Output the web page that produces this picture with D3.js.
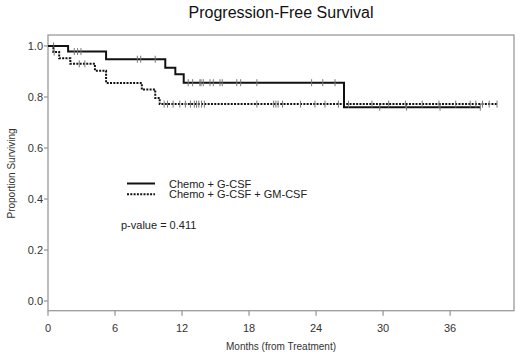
<!DOCTYPE html>
<html>
<head>
<meta charset="utf-8">
<script src="https://cdn.jsdelivr.net/npm/d3@7"></script>
<style>
  body { margin: 0; background: #fff; }
  text { font-family: "Liberation Sans", Arial, sans-serif; }
</style>
</head>
<body>
<div id="chart"></div>
<script>
var width = 520,
  height = 354;

// Chemo + G-CSF: step times (months) and survival after each step
var gcsfTimes = [0, 1.8, 5.2, 10.5, 11.4, 12.15, 26.5, 38.7];
var gcsfSurv = [1.0, 0.978, 0.948, 0.915, 0.889, 0.856, 0.76, 0.76];
var gcsfCensor = [0.5, 2.35, 2.65, 2.95, 8.0, 8.3, 9.6, 12.55, 12.95, 13.6, 13.7, 13.9, 14.5, 14.8,
  15.4, 15.6, 16.9, 17.25, 18.7, 23.6, 24.6, 25.7, 29.7, 32.1, 35.1, 38.7];

// Chemo + G-CSF + GM-CSF
var gmTimes = [0, 0.48, 1.0, 2.0, 4.2, 5.2, 8.4, 9.6, 10.0, 40.2];
var gmSurv = [1.0, 0.976, 0.952, 0.93, 0.903, 0.855, 0.829, 0.796, 0.772, 0.772];
var gmCensor = [0.55, 2.8, 3.3, 10.4, 10.7, 11.2, 11.8, 12.3, 12.75, 13.1, 13.3, 13.5, 13.75, 14.0,
  18.7, 20.2, 20.4, 20.6, 21.0, 22.6, 23.9, 24.8, 26.0, 26.9, 29.0, 30.5, 32.0, 33.5, 35.0,
  36.5, 37.8, 38.3, 38.9, 39.5, 40.2];

var xTicks = [0, 6, 12, 18, 24, 30, 36];
var yTicks = [0.0, 0.2, 0.4, 0.6, 0.8, 1.0];
var legendLabels = ["Chemo + G-CSF", "Chemo + G-CSF + GM-CSF"];
var pValue = "p-value = 0.411";

var svg = d3.select( "#chart" )
  .append( "svg" )
  .attr( "width", width )
  .attr( "height", height );

var x = d3.scaleLinear()
  .domain( [0, 41.72] )
  .range( [48, 514] );

var y = d3.scaleLinear()
  .domain( [-0.038, 1.043] )
  .range( [310.7, 35] );

// plot frame
svg.append( "rect" )
  .attr( "x", x(0) )
  .attr( "y", y(1.043) )
  .attr( "width", x(41.72) - x(0) )
  .attr( "height", y(-0.038) - y(1.043) )
  .attr( "fill", "none" )
  .attr( "stroke", "#9a9a9a" )
  .attr( "stroke-width", 1.3 );

// x axis ticks
var xAxis = svg.append( "g" );
xAxis.selectAll( "line" )
  .data( xTicks )
  .enter()
  .append( "line" )
  .attr( "x1", function(d){ return x(d); } )
  .attr( "x2", function(d){ return x(d); } )
  .attr( "y1", y(-0.038) )
  .attr( "y2", y(-0.038) + 5 )
  .attr( "stroke", "#9a9a9a" )
  .attr( "stroke-width", 1.3 );
xAxis.selectAll( "text" )
  .data( xTicks )
  .enter()
  .append( "text" )
  .attr( "x", function(d){ return x(d); } )
  .attr( "y", 332 )
  .attr( "text-anchor", "middle" )
  .attr( "font-size", "11px" )
  .attr( "fill", "#333" )
  .text( function(d){ return d; } );

// y axis ticks
var yAxis = svg.append( "g" );
yAxis.selectAll( "line" )
  .data( yTicks )
  .enter()
  .append( "line" )
  .attr( "x1", x(0) - 4 )
  .attr( "x2", x(0) )
  .attr( "y1", function(d){ return y(d); } )
  .attr( "y2", function(d){ return y(d); } )
  .attr( "stroke", "#9a9a9a" )
  .attr( "stroke-width", 1.3 );
yAxis.selectAll( "text" )
  .data( yTicks )
  .enter()
  .append( "text" )
  .attr( "x", 43 )
  .attr( "y", function(d){ return y(d) + 4; } )
  .attr( "text-anchor", "end" )
  .attr( "font-size", "11px" )
  .attr( "fill", "#333" )
  .text( function(d){ return d.toFixed(1); } );

// titles
svg.append( "text" )
  .attr( "x", 281 )
  .attr( "y", 18 )
  .attr( "text-anchor", "middle" )
  .attr( "font-size", "16px" )
  .attr( "fill", "#111" )
  .text( "Progression-Free Survival" );

svg.append( "text" )
  .attr( "x", 281 )
  .attr( "y", 350 )
  .attr( "text-anchor", "middle" )
  .attr( "font-size", "10px" )
  .attr( "fill", "#333" )
  .text( "Months (from Treatment)" );

svg.append( "text" )
  .attr( "transform", "translate(15," + y(0.5) + ") rotate(-90)" )
  .attr( "text-anchor", "middle" )
  .attr( "font-size", "10px" )
  .attr( "fill", "#333" )
  .text( "Proportion Surviving" );

// survival curves
function toPoints(times, surv){
  return times.map(function(t, i){ return [t, surv[i]]; });
}

function survAt(times, surv, t){
  var i = d3.bisectRight(times, t) - 1;
  return surv[Math.max(0, i)];
}

var line = d3.line()
  .x( function(d){ return x(d[0]); } )
  .y( function(d){ return y(d[1]); } )
  .curve( d3.curveStepAfter );

var series = [
  { times: gcsfTimes, surv: gcsfSurv, censor: gcsfCensor, dash: null },
  { times: gmTimes, surv: gmSurv, censor: gmCensor, dash: "2,1.3" }
];

series.forEach(function(s){
  var g = svg.append( "g" );
  g.append( "path" )
    .attr( "d", line(toPoints(s.times, s.surv)) )
    .attr( "fill", "none" )
    .attr( "stroke", "#111" )
    .attr( "stroke-width", 2 )
    .attr( "stroke-dasharray", s.dash );
  g.selectAll( "line" )
    .data( s.censor )
    .enter()
    .append( "line" )
    .attr( "x1", function(d){ return x(d); } )
    .attr( "x2", function(d){ return x(d); } )
    .attr( "y1", function(d){ return y(survAt(s.times, s.surv, d)) - 3.5; } )
    .attr( "y2", function(d){ return y(survAt(s.times, s.surv, d)) + 3.5; } )
    .attr( "stroke", "#777" )
    .attr( "stroke-width", 1 );
});

// legend
var legend = svg.append( "g" );
legend.selectAll( "line" )
  .data( legendLabels )
  .enter()
  .append( "line" )
  .attr( "x1", 127 )
  .attr( "x2", 155 )
  .attr( "y1", function(d, i){ return 183.5 + i * 10.8; } )
  .attr( "y2", function(d, i){ return 183.5 + i * 10.8; } )
  .attr( "stroke", "#111" )
  .attr( "stroke-width", 2 )
  .attr( "stroke-dasharray", function(d, i){ return i ? "2,1.3" : null; } );
legend.selectAll( "text" )
  .data( legendLabels )
  .enter()
  .append( "text" )
  .attr( "x", 169 )
  .attr( "y", function(d, i){ return 187.5 + i * 10.8; } )
  .attr( "font-size", "11px" )
  .attr( "fill", "#222" )
  .text( function(d){ return d; } );

svg.append( "text" )
  .attr( "x", 121 )
  .attr( "y", 229 )
  .attr( "font-size", "11px" )
  .attr( "fill", "#222" )
  .text( pValue );
</script>
</body>
</html>
